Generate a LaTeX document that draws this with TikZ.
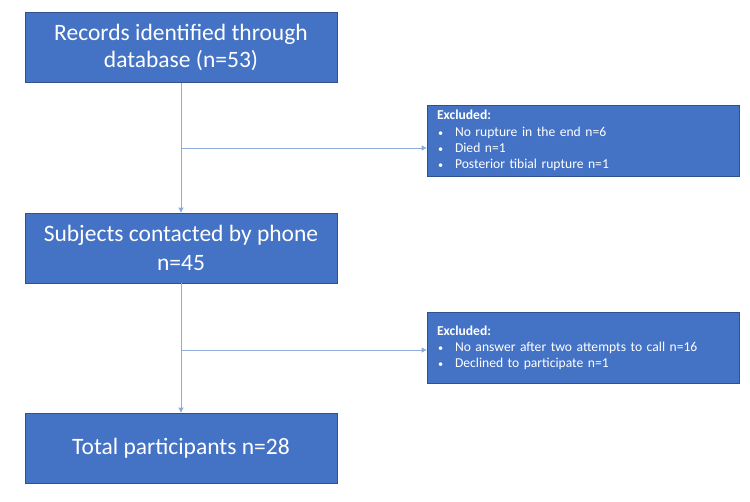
\documentclass[tikz,border=0pt]{standalone}
\usepackage{fontspec}
\setmainfont{Carlito}
\usetikzlibrary{positioning, arrows.meta, calc}

\definecolor{boxblue}{HTML}{4472C4}
\definecolor{edgeblue}{HTML}{2F528F}
\definecolor{lineblue}{HTML}{8FAADC}

\newcommand{\exitem}{\makebox[18pt][l]{\hspace{1pt}\scalebox{0.75}{\textbullet}}}

\begin{document}
\begin{tikzpicture}[
  x=1pt, y=-1pt,
  stage/.style={draw=edgeblue, fill=boxblue, line width=0.8pt, align=center, text=white,
    minimum width=312pt, minimum height=70pt, inner sep=4pt,
    font=\fontsize{23.5}{29.5}\selectfont},
  exclbox/.style={draw=edgeblue, fill=boxblue, line width=0.8pt, align=left, text=white,
    text width=292pt, minimum height=71pt, inner xsep=10pt, inner ysep=3pt,
    font=\fontsize{13.6}{16.3}\selectfont},
  flow/.style={-{Triangle[length=5pt, width=5pt]}, line width=0.8pt, draw=lineblue}
]
\useasboundingbox (0,0) rectangle (750,501);

% --- main stages ---
\node[stage] (records) at (181,47.5)
  {\raisebox{-2pt}{Records identified through}\\database (n=53)};
\node[stage] (contacted) at (181,248)
  {Subjects contacted by phone\\n=45};
\node[stage] (total) at (181,448)
  {Total participants n=28};

% --- exclusions ---
\node[exclbox] (excl1) at (583,140.5)
  {\textbf{Excluded:}\\
   \exitem No rupture in the end n=6\\
   \exitem Died n=1\\
   \exitem Posterior tibial rupture n=1};
\node[exclbox] (excl2) at (583,348)
  {\textbf{Excluded:}\\
   \exitem No answer after two attempts to call n=16\\
   \exitem Declined to participate n=1\\[9pt]};

% --- trunk ---
\draw[flow] (records.south) -- (contacted.north);
\draw[flow] (contacted.south) -- (total.north);

% --- branches to the exclusions ---
\coordinate (split1) at (181,148);
\coordinate (split2) at (181,350);
\draw[flow] (split1) -- (split1 -| excl1.west);
\draw[flow] (split2) -- (split2 -| excl2.west);

\end{tikzpicture}
\end{document}
